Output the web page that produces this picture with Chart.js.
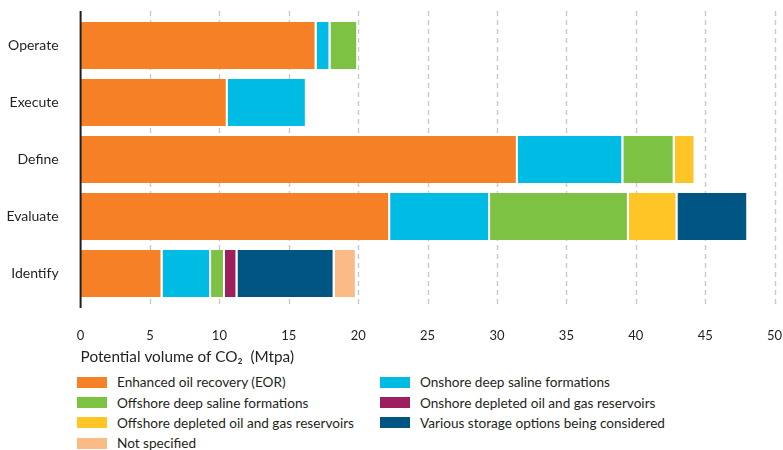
<!DOCTYPE html>
<html>
<head>
<meta charset="utf-8">
<script src="https://cdn.jsdelivr.net/npm/chart.js@4/dist/chart.umd.min.js"></script>
<style>
  html, body { margin: 0; padding: 0; background: #fff; }
  body { width: 783px; height: 450px; position: relative; overflow: hidden;
         font-family: Lato, 'Open Sans', sans-serif; color: #231f20; }
  #wrap { position: absolute; left: 0; top: 0; width: 783px; height: 370px; }
  #legend { position: absolute; left: 77px; top: 372px; display: grid;
            grid-template-columns: 303px 330px; row-gap: 0; }
  .item { display: flex; align-items: center; height: 20.4px; font-size: 13.6px; white-space: nowrap; }
  .sw { width: 30px; height: 11px; margin-right: 10px; flex: none; }
</style>
</head>
<body>
<div id="wrap"><canvas id="chart"></canvas></div>
<div id="legend"></div>
<script>
// Project stages and the CO2 volume (Mtpa) planned for each storage type
const stages = ['Operate', 'Execute', 'Define', 'Evaluate', 'Identify'];

const eor              = [17.0, 10.6, 31.5, 22.3, 5.9];
const onshoreSaline    = [1.0, 5.7, 7.6, 7.2, 3.5];
const offshoreSaline   = [2.0, 0, 3.7, 10.0, 1.0];
const onshoreDepleted  = [0, 0, 0, 0, 0.9];
const offshoreDepleted = [0, 0, 1.5, 3.5, 0];
const variousOptions   = [0, 0, 0, 5.1, 7.0];
const notSpecified     = [0, 0, 0, 0, 1.6];

const seriesNames = [
  'Enhanced oil recovery (EOR)',
  'Onshore deep saline formations',
  'Offshore deep saline formations',
  'Onshore depleted oil and gas reservoirs',
  'Offshore depleted oil and gas reservoirs',
  'Various storage options being considered',
  'Not specified'
];
const seriesValues = [eor, onshoreSaline, offshoreSaline, onshoreDepleted,
                      offshoreDepleted, variousOptions, notSpecified];
const seriesColors = ['#f58025', '#00bce4', '#7dc242', '#9e1f5e',
                      '#ffc425', '#005682', '#fabb87'];

const xTicks = [0, 5, 10, 15, 20, 25, 30, 35, 40, 45, 50];

const FONT = "Lato, 'Open Sans', sans-serif";
const TEXT = '#231f20';

// Keep the plot box exactly where the layout puts it
function noAutoPadding(s) {
  s.paddingLeft = 0; s.paddingRight = 0; s.paddingTop = 0; s.paddingBottom = 0;
}

// Dashed vertical guides and the solid zero line, positioned by the x scale
const guides = {
  id: 'guides',
  beforeDatasetsDraw(chart) {
    const { ctx, chartArea, scales: { x } } = chart;
    ctx.save();
    ctx.strokeStyle = '#c9c9c9';
    ctx.lineWidth = 1.4;
    ctx.setLineDash([5, 4]);
    xTicks.forEach(v => {
      if (v === 0) return;
      const px = Math.round(x.getPixelForValue(v)) + 0.5;
      ctx.beginPath();
      ctx.moveTo(px, 11);
      ctx.lineTo(px, chartArea.bottom + 2);
      ctx.stroke();
    });
    ctx.restore();
  },
  afterDatasetsDraw(chart) {
    const { ctx, chartArea, scales: { x } } = chart;
    const px = x.getPixelForValue(0);
    ctx.save();
    ctx.strokeStyle = '#231f20';
    ctx.lineWidth = 2;
    ctx.beginPath();
    ctx.moveTo(px, 11);
    ctx.lineTo(px, chartArea.bottom + 6);
    ctx.stroke();
    ctx.restore();
  }
};

new Chart(document.getElementById('chart'), {
  type: 'bar',
  data: {
    labels: stages,
    datasets: seriesValues.map((vals, i) => ({
      label: seriesNames[i],
      data: vals,
      backgroundColor: seriesColors[i],
      borderColor: '#ffffff',
      borderWidth: { top: 0, bottom: 0, left: 0, right: 2 },
      borderSkipped: false,
      inflateAmount: 0,
      barPercentage: 0.825,
      categoryPercentage: 1
    }))
  },
  options: {
    indexAxis: 'y',
    responsive: true,
    maintainAspectRatio: false,
    animation: false,
    layout: { padding: { top: 17, right: 8.4, left: 0, bottom: 0 } },
    plugins: { legend: { display: false }, tooltip: { enabled: false } },
    scales: {
      x: {
        type: 'linear',
        stacked: true,
        min: 0,
        max: 50,
        afterBuildTicks: s => { s.ticks = xTicks.map(v => ({ value: v })); },
        afterFit: s => { s.height = 68; noAutoPadding(s); },
        grid: { display: false, drawTicks: false },
        border: { display: false },
        ticks: { padding: 26, color: TEXT, font: { family: FONT, size: 13 }, maxRotation: 0 },
        title: {
          display: true,
          text: 'Potential volume of CO\u2082  (Mtpa)',
          align: 'start',
          color: TEXT,
          font: { family: FONT, size: 15.3 },
          padding: { top: 2, bottom: 4 }
        }
      },
      y: {
        stacked: true,
        afterFit: s => { s.width = 80.6; noAutoPadding(s); },
        grid: { display: false, drawTicks: false },
        border: { display: false },
        ticks: { padding: 22, color: TEXT, font: { family: FONT, size: 14 } }
      }
    }
  },
  plugins: [guides]
});

// Two-column key built from the same series lists
const legend = document.getElementById('legend');
seriesNames.forEach((name, i) => {
  const item = document.createElement('div');
  item.className = 'item';
  const sw = document.createElement('span');
  sw.className = 'sw';
  sw.style.background = seriesColors[i];
  const label = document.createElement('span');
  label.textContent = name;
  item.appendChild(sw);
  item.appendChild(label);
  legend.appendChild(item);
});
</script>
</body>
</html>
